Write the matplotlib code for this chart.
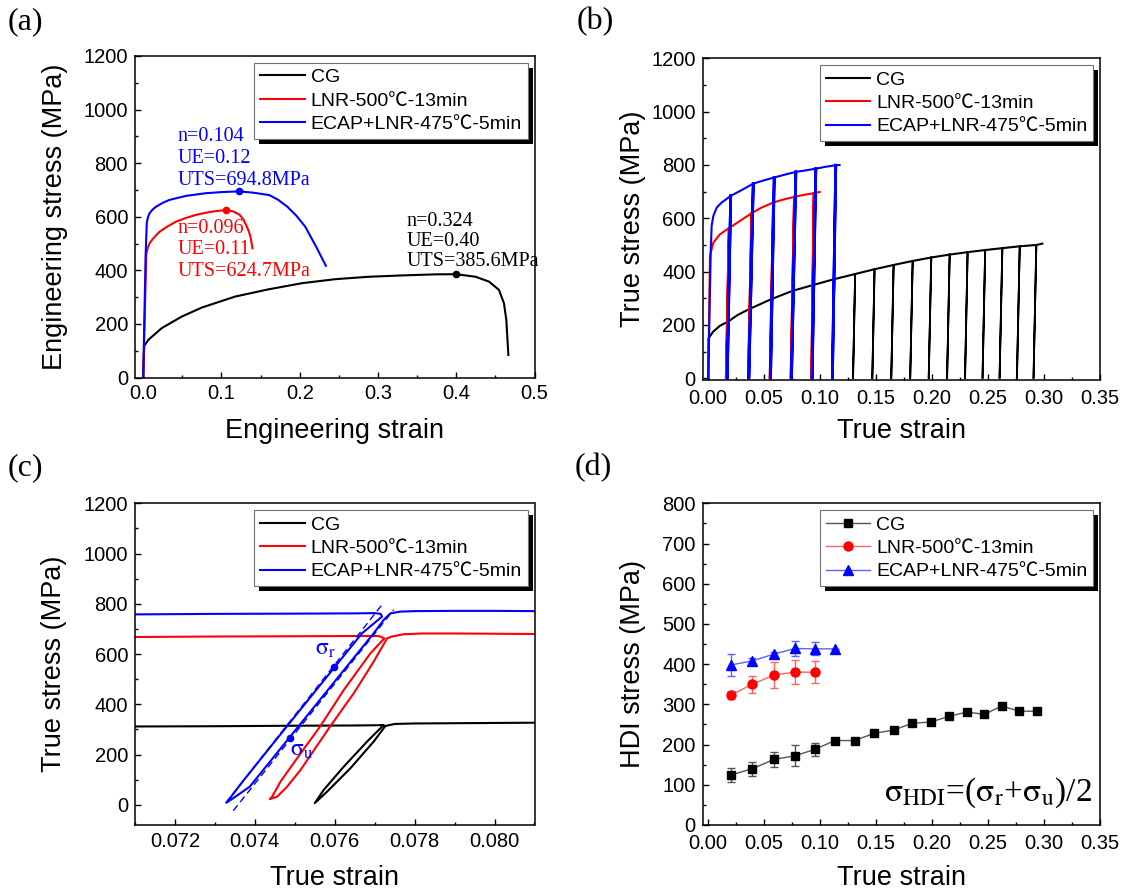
import numpy as np
import matplotlib
matplotlib.use("Agg")
import matplotlib.pyplot as plt
from matplotlib.patches import Rectangle
from matplotlib.font_manager import FontProperties
from matplotlib.ticker import MultipleLocator, FormatStrFormatter

plt.rcParams['font.family'] = ['Liberation Sans', 'Noto Sans CJK SC', 'DejaVu Sans']
plt.rcParams['mathtext.fontset'] = 'stix'

labels = ['CG', 'LNR-500\u2103-13min', 'ECAP+LNR-475\u2103-5min']
colors = ['black', '#ff0000', '#0000ff']

# ---------------- (a) engineering curves ----------------
cg_eng_strain = [0.0, 0.0013, 0.0064, 0.0235, 0.049, 0.0748, 0.1174, 0.160, 0.2028, 0.2455,
                 0.2881, 0.3308, 0.3735, 0.400, 0.4247, 0.4418, 0.4546, 0.461, 0.464, 0.4666]
cg_eng_stress = [0, 118, 140, 184, 227, 261, 302, 329, 352, 367,
                 376, 381, 385, 385.6, 376, 358, 327, 277, 215, 84]
lnr_eng_strain = [0.0, 0.004, 0.006, 0.0081, 0.013, 0.0209, 0.03, 0.0421, 0.055, 0.0675, 0.08,
                  0.09, 0.105, 0.115, 0.1233, 0.128, 0.1324, 0.135, 0.137, 0.1397]
lnr_eng_stress = [0, 464, 485, 501, 520, 544, 562, 582, 596, 607, 615,
                  620, 624.7, 620, 607, 590, 563, 545, 526, 482]
ecap_eng_strain = [0.0, 0.003, 0.0045, 0.006, 0.0081, 0.012, 0.0167, 0.025, 0.0336, 0.0548,
                   0.0803, 0.1, 0.123, 0.14, 0.161, 0.172, 0.184, 0.196, 0.207, 0.221, 0.2334]
ecap_eng_stress = [0, 450, 575, 598, 613, 627, 638, 652, 663, 678,
                   688, 692, 694.8, 690, 681, 664, 638, 603, 563, 488, 417]
uts_strain = [0.400, 0.1055, 0.1225]
uts_stress = [385.6, 624.7, 694.8]
ann_text = [['n=0.324', 'UE=0.40', 'UTS=385.6MPa'],
            ['n=0.096', 'UE=0.11', 'UTS=624.7MPa'],
            ['n=0.104', 'UE=0.12', 'UTS=694.8MPa']]
ann_x = [0.3367, 0.044, 0.044]
ann_y = [[582, 507, 432], [557, 476, 395], [899, 818, 737]]

# ---------------- (b) true curves with unload/reload ----------------
cg_env_strain = [0.0006, 0.0008, 0.005, 0.011, 0.018, 0.027, 0.0374, 0.0569, 0.0758, 0.0943,
                 0.1131, 0.1316, 0.1489, 0.1659, 0.1829, 0.1995, 0.2159, 0.2319, 0.2476, 0.2629,
                 0.2784, 0.2932, 0.2985]
cg_env_stress = [0, 150, 175, 197, 212, 238, 260, 297, 328, 350,
                 372, 391, 409, 425, 440, 453, 464, 473, 481, 488,
                 495, 500, 505]
cg_top_strain = [0.0180, 0.0374, 0.0569, 0.0758, 0.0943, 0.1131, 0.1316, 0.1489, 0.1659,
                 0.1829, 0.1995, 0.2159, 0.2319, 0.2476, 0.2629, 0.2784, 0.2932]
cg_top_stress = [212, 260, 297, 328, 350, 372, 391, 409, 425, 440, 453, 464, 473, 481, 488, 495, 500]
cg_bot_strain = [0.0170, 0.0362, 0.0555, 0.0742, 0.0926, 0.1113, 0.1297, 0.1469, 0.1638,
                 0.1807, 0.1972, 0.2136, 0.2296, 0.2452, 0.2604, 0.2759, 0.2907]

lnr_env_strain = [0.0005, 0.0021, 0.0051, 0.011, 0.019, 0.0288, 0.0392, 0.048, 0.0585, 0.0672,
                  0.0772, 0.086, 0.0947, 0.100]
lnr_env_stress = [0, 459, 509, 540, 563, 590, 619, 640, 659, 670, 680, 688, 694, 699]
lnr_top_strain = [0.019, 0.0392, 0.0585, 0.0772, 0.0947]
lnr_top_stress = [563, 619, 659, 680, 694]
lnr_bot_strain = [0.0164, 0.0362, 0.0555, 0.0742, 0.0926]

ecap_env_strain = [0.0006, 0.0028, 0.0036, 0.0051, 0.0081, 0.0125, 0.0206, 0.03, 0.0407, 0.05,
                   0.0594, 0.07, 0.0787, 0.088, 0.0965, 0.105, 0.1143, 0.1177]
ecap_env_stress = [0, 484, 572, 609, 640, 659, 684, 705, 730, 742,
                   753, 765, 774, 780, 786, 793, 799, 800]
ecap_top_strain = [0.0206, 0.0407, 0.0594, 0.0787, 0.0965, 0.1143]
ecap_top_stress = [684, 730, 753, 774, 786, 799]
ecap_bot_strain = [0.0175, 0.0368, 0.0561, 0.0748, 0.0932, 0.1113]

# ---------------- (c) single hysteresis loop ----------------
cg_loop_strain = [0.0710, 0.0730, 0.0750, 0.0765, 0.0771, 0.077225, 0.07681, 0.076225, 0.075725,
                  0.0755, 0.07581, 0.076393, 0.076975, 0.077268, 0.0775, 0.0780, 0.0790, 0.0800, 0.0810]
cg_loop_stress = [312, 313, 315, 316, 317, 318, 252, 152, 60,
                  7, 53, 146, 252, 314, 322, 324, 325, 326, 327]
lnr_loop_strain = [0.0710, 0.0730, 0.0750, 0.0765, 0.0771, 0.077243, 0.076893, 0.076225, 0.075643,
                   0.07506, 0.074643, 0.074435, 0.074375, 0.07456, 0.07481, 0.075143, 0.075893,
                   0.076475, 0.076975, 0.07731, 0.077435, 0.077725, 0.0782, 0.0790, 0.0800, 0.0810]
lnr_loop_stress = [668, 670, 671, 672, 672, 663, 603, 457, 314,
                   186, 93, 33, 23, 33, 73, 139, 314,
                   444, 570, 663, 670, 679, 682, 682, 681, 680]
ecap_loop_strain = [0.0710, 0.0730, 0.0750, 0.0765, 0.0770, 0.07715, 0.077184, 0.076684, 0.075992,
                    0.07481, 0.073725, 0.073292, 0.073518, 0.073875, 0.0751, 0.076975, 0.077225,
                    0.077392, 0.077642, 0.0780, 0.0790, 0.0800, 0.0810]
ecap_loop_stress = [758, 760, 761, 762, 763, 760, 749, 683, 547,
                    314, 99, 9, 33, 73, 314, 683, 736,
                    762, 769, 771, 772, 772, 771]
tangent1_strain = [0.073267, 0.077225]
tangent1_stress = [7, 805]
tangent2_strain = [0.07346, 0.077475]
tangent2_stress = [-23, 776]
sigma_r_point = (0.07599, 548)
sigma_u_point = (0.07488, 265)

# ---------------- (d) HDI stress ----------------
cg_hdi_strain = [0.0206, 0.0398, 0.0591, 0.0778, 0.0956, 0.1134, 0.1312, 0.1484, 0.1659, 0.1825,
                 0.1991, 0.2151, 0.2313, 0.2469, 0.2623, 0.2780, 0.2935]
cg_hdi = [124, 140, 163, 172, 188, 210, 210, 228, 236, 253, 256, 270, 281, 275, 296, 283, 283]
cg_hdi_err = [18, 17, 18, 26, 16, 0, 0, 0, 0, 0, 0, 0, 0, 0, 0, 0, 0]
lnr_hdi_strain = [0.0206, 0.0398, 0.0591, 0.0778, 0.0956]
lnr_hdi = [323, 350, 373, 380, 380]
lnr_hdi_err = [10, 21, 32, 30, 28]
ecap_hdi_strain = [0.0206, 0.0398, 0.0591, 0.0778, 0.0956, 0.1134]
ecap_hdi = [398, 408, 425, 439, 438, 438]
ecap_hdi_err = [28, 8, 6, 18, 16, 0]

W, H = 1124, 891
fig = plt.figure(figsize=(W / 100, H / 100), dpi=100)

def axes_px(l, r, t, b):
    return fig.add_axes([l / W, 1 - b / H, (r - l) / W, (b - t) / H])

axA = axes_px(135, 534.5, 56, 377.5)
axB = axes_px(702.8, 1100, 58.3, 380)
axC = axes_px(135, 534.5, 503.3, 825)
axD = axes_px(702.8, 1100, 503.3, 825)

TICK_FS = 14.5
LAB_FS = 19.5
leg_prop = FontProperties(family=['Liberation Sans', 'Noto Sans CJK SC', 'DejaVu Sans'], size=14)
serif = 'Liberation Serif'

def style(ax, xmaj, xmin, ymaj, ymin, xpad=5):
    ax.xaxis.set_major_locator(MultipleLocator(xmaj))
    ax.xaxis.set_minor_locator(MultipleLocator(xmin))
    ax.yaxis.set_major_locator(MultipleLocator(ymaj))
    ax.yaxis.set_minor_locator(MultipleLocator(ymin))
    ax.tick_params(which='both', direction='in', top=False, right=False, width=1.0)
    ax.tick_params(which='major', length=4.5, labelsize=TICK_FS, pad=5)
    ax.tick_params(axis='x', which='major', pad=xpad)
    ax.tick_params(which='minor', length=2.5)
    for s in ax.spines.values():
        s.set_linewidth(1.1)

def make_legend(ax, handles=None):
    kw = dict(loc='upper right', prop=leg_prop, frameon=True, fancybox=False, framealpha=1,
              edgecolor='0.45', borderpad=0.3, labelspacing=0.3, handlelength=2.3,
              handletextpad=0.3, borderaxespad=0.35)
    if handles is not None:
        leg = ax.legend(handles, labels, **kw)
    else:
        leg = ax.legend(**kw)
    leg.get_frame().set_linewidth(0.8)
    leg.set_zorder(5)
    return leg

# ---- (a)
for xs, ys, c, lab in zip([cg_eng_strain, lnr_eng_strain, ecap_eng_strain],
                          [cg_eng_stress, lnr_eng_stress, ecap_eng_stress], colors, labels):
    axA.plot(xs, ys, color=c, lw=1.5, label=lab)
for x, y, c in zip(uts_strain, uts_stress, colors):
    axA.plot([x], [y], 'o', color=c, ms=4.5)
for lines, x, ys, c in zip(ann_text, ann_x, ann_y, colors):
    for t, y in zip(lines, ys):
        axA.text(x, y, t, color=c, fontsize=14.5, family=serif, ha='left', va='center')
axA.set_xlim(-0.0105, 0.5)
axA.set_ylim(0, 1200)
style(axA, 0.1, 0.05, 200, 100)
axA.xaxis.set_major_formatter(FormatStrFormatter('%.1f'))
axA.set_xlabel('Engineering strain', fontsize=LAB_FS)
axA.set_ylabel('Engineering stress (MPa)', fontsize=LAB_FS)
legA = make_legend(axA)

# ---- (b)
env = [(cg_env_strain, cg_env_stress), (lnr_env_strain, lnr_env_stress), (ecap_env_strain, ecap_env_stress)]
cyc = [(cg_top_strain, cg_top_stress, cg_bot_strain), (lnr_top_strain, lnr_top_stress, lnr_bot_strain),
       (ecap_top_strain, ecap_top_stress, ecap_bot_strain)]
cyc_lw = [1.3, 1.6, 2.0]
for (xs, ys), (ts, tsig, bs), c, lab, lw in zip(env, cyc, colors, labels, cyc_lw):
    axB.plot(xs, ys, color=c, lw=1.5, label=lab)
    for a, s, b in zip(ts, tsig, bs):
        axB.plot([a, b, a], [s, 0, s], color=c, lw=lw)
axB.set_xlim(-0.0043, 0.35)
axB.set_ylim(-6.4, 1200)
style(axB, 0.05, 0.025, 200, 100, xpad=6.5)
axB.xaxis.set_major_formatter(FormatStrFormatter('%.2f'))
axB.set_xlabel('True strain', fontsize=LAB_FS)
axB.set_ylabel('True stress (MPa)', fontsize=LAB_FS)
legB = make_legend(axB)

# ---- (c)
for xs, ys, c, lab in zip([cg_loop_strain, lnr_loop_strain, ecap_loop_strain],
                          [cg_loop_stress, lnr_loop_stress, ecap_loop_stress], colors, labels):
    axC.plot(xs, ys, color=c, lw=1.5, label=lab)
axC.plot(tangent1_strain, tangent1_stress, color='#0000ff', lw=1.0, ls=(0, (5, 3)))
axC.plot(tangent2_strain, tangent2_stress, color='#0000ff', lw=1.0, ls=(0, (5, 3)))
axC.plot(*sigma_r_point, 'o', color='#0000ff', ms=4.5)
axC.plot(*sigma_u_point, 'o', color='#0000ff', ms=4.5)
axC.text(0.0755, 597, r'$\mathrm{\sigma}_{\mathrm{r}}$', color='#0000ff', fontsize=17,
         ha='left', va='baseline')
axC.text(0.07488, 195, r'$\mathrm{\sigma}_{\mathrm{u}}$', color='#0000ff', fontsize=17,
         ha='left', va='baseline')
axC.set_xlim(0.071, 0.081)
axC.set_ylim(-80, 1200)
style(axC, 0.002, 0.001, 200, 100)
axC.xaxis.set_major_formatter(FormatStrFormatter('%.3f'))
axC.set_xlabel('True strain', fontsize=LAB_FS)
axC.set_ylabel('True stress (MPa)', fontsize=LAB_FS)
legC = make_legend(axC)

# ---- (d)
hd = []
for xs, ys, es, c, m, ms, lc, lab in zip([cg_hdi_strain, lnr_hdi_strain, ecap_hdi_strain],
                                          [cg_hdi, lnr_hdi, ecap_hdi],
                                          [cg_hdi_err, lnr_hdi_err, ecap_hdi_err],
                                          colors, ['s', 'o', '^'], [5.5, 6.5, 7],
                                          ['#555555', '#ff6060', '#6060ff'], labels):
    axD.errorbar(xs, ys, yerr=es, fmt='none', ecolor=lc, elinewidth=1.0, capsize=3, capthick=1.0)
    h, = axD.plot(xs, ys, color=lc, lw=1.0, marker=m, ms=ms, mfc=c, mec=c, label=lab)
    hd.append(h)
axD.text(0.98, 0.075,
         r'$\mathrm{\sigma}_{\mathrm{HDI}}$=($\mathrm{\sigma}_{\mathrm{r}}$+$\mathrm{\sigma}_{\mathrm{u}}$)/2',
         transform=axD.transAxes, fontsize=24, family=serif, ha='right', va='baseline')
axD.set_xlim(-0.0043, 0.35)
axD.set_ylim(0, 800)
style(axD, 0.05, 0.025, 100, 50, xpad=6.5)
axD.xaxis.set_major_formatter(FormatStrFormatter('%.2f'))
axD.set_xlabel('True strain', fontsize=LAB_FS)
axD.set_ylabel('HDI stress (MPa)', fontsize=LAB_FS)
legD = make_legend(axD, hd)

# axis label positions (axes fractions)
axA.yaxis.set_label_coords(-0.167, 0.5)
axA.xaxis.set_label_coords(0.5, -0.126)
axB.yaxis.set_label_coords(-0.143, 0.5)
axB.xaxis.set_label_coords(0.5, -0.118)
axC.yaxis.set_label_coords(-0.169, 0.5)
axC.xaxis.set_label_coords(0.5, -0.124)
axD.yaxis.set_label_coords(-0.143, 0.5)
axD.xaxis.set_label_coords(0.5, -0.124)

# panel labels
for txt, px, py in [('(a)', 8, 22), ('(b)', 577, 22), ('(c)', 8, 468), ('(d)', 575, 468)]:
    fig.text(px / W, 1 - py / H, txt, fontsize=23, family=serif, ha='left', va='center')

# legend drop shadows
fig.canvas.draw()
for ax, leg in [(axA, legA), (axB, legB), (axC, legC), (axD, legD)]:
    bb = leg.get_window_extent()
    inv = ax.transAxes.inverted()
    x0, y0 = inv.transform((bb.x0 + 5, bb.y0 - 5))
    x1, y1 = inv.transform((bb.x1 + 5, bb.y1 - 5))
    r = Rectangle((x0, y0), x1 - x0, y1 - y0, transform=ax.transAxes, facecolor='black',
                  edgecolor='none', zorder=4.5, clip_on=False)
    ax.add_artist(r)

fig.savefig('out.png', dpi=100)
